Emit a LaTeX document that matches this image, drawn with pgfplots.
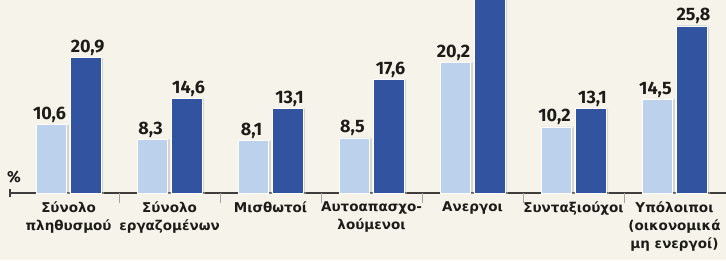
\documentclass[border=0pt]{standalone}
\usepackage{fontspec}
\setmainfont{Fira Sans}
\newfontfamily\lblfont{DejaVu Sans}
\usepackage{pgfplots}
\pgfplotsset{compat=1.18}
\definecolor{bg}{HTML}{F6F4EA}
\definecolor{lightb}{HTML}{BCD2EC}
\definecolor{darkb}{HTML}{3253A0}
\definecolor{txt}{HTML}{1E1C18}
\begin{document}
\begin{tikzpicture}[x=1pt,y=1pt]
\fill[bg, use as bounding box] (-10,-67) rectangle (716,193);
\begin{axis}[
  at={(0,0)}, anchor=south west,
  width=716pt, height=193pt, scale only axis,
  xmin=-0.58, xmax=6.51, ymin=0, ymax=29.8,
  axis y line=none, axis x line=bottom,
  x axis line style={-, line width=1.6pt, color=txt!85},
  xtick={0,...,6}, major tick length=0pt,
  xticklabels={{Σύνολο\\πληθυσμού},{Σύνολο\\εργαζομένων},{Μισθωτοί},{Αυτοαπασχο-\\λούμενοι},{Ανεργοι},{Συνταξιούχοι},{Υπόλοιποι\\(οικονομικά\\μη ενεργοί)}},
  xticklabel style={align=center, font=\lblfont\bfseries\fontsize{13.5}{18}\selectfont, text=txt, yshift=-5pt},
  extra x ticks={0.5,1.5,2.5,3.5,4.5,5.5},
  extra x tick labels={},
  extra x tick style={major tick length=10pt, tick align=outside, tick style={color=black!35, line width=0.7pt}},
  ybar, bar width=0.3,
  point meta=explicit symbolic,
  nodes near coords,
  every node near coord/.style={font=\bfseries\fontsize{18}{21}\selectfont, text=txt, anchor=south, inner sep=1.5pt},
]
\addplot[ybar, bar shift=-0.17, fill=lightb, draw=white, line width=0.6pt,
  preaction={fill=black!40, opacity=0.35, transform canvas={xshift=2.5pt}},
  nodes near coords style={xshift=-19pt}]
  coordinates {(0,10.6)[10,6] (1,8.3)[8,3] (2,8.1)[8,1] (3,8.5)[8,5] (4,20.2)[20,2] (5,10.2)[10,2] (6,14.5)[14,5]};
\addplot[ybar, bar shift=0.17, fill=darkb, draw=white, line width=0.6pt,
  preaction={fill=black!40, opacity=0.35, transform canvas={xshift=2.5pt}},
  nodes near coords style={xshift=19pt}]
  coordinates {(0,20.9)[20,9] (1,14.6)[14,6] (2,13.1)[13,1] (3,17.6)[17,6] (4,35.0)[] (5,13.1)[13,1] (6,25.8)[25,8]};
\end{axis}
\draw[line width=1.6pt, color=txt!85] (0,-4) -- (0,4);
\node[anchor=west, font=\bfseries\fontsize{16}{19}\selectfont, text=txt, inner sep=0pt] at (-3,16) {\%};
\end{tikzpicture}
\end{document}
